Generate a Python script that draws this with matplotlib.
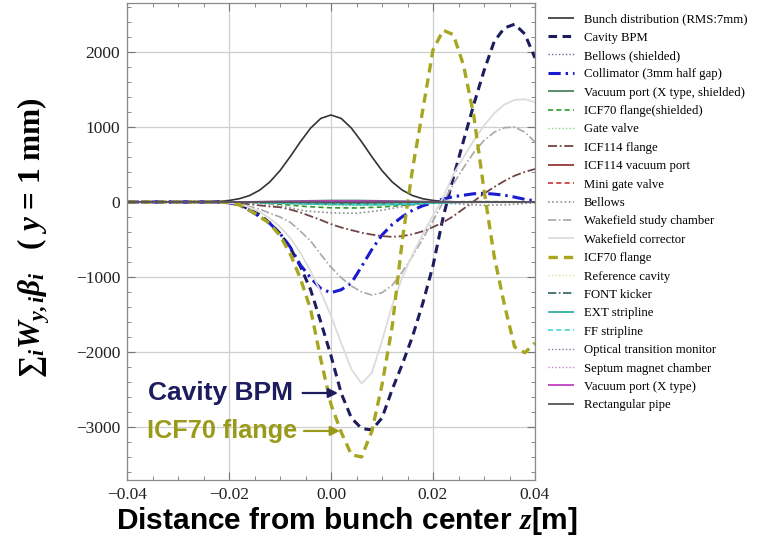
import numpy as np
import matplotlib
matplotlib.use("Agg")
import matplotlib.pyplot as plt
from matplotlib.ticker import MultipleLocator

plt.rcParams["font.family"] = ["Liberation Serif", "DejaVu Serif"]
plt.rcParams["mathtext.fontset"] = "custom"
plt.rcParams["mathtext.rm"] = "Liberation Serif:bold"
plt.rcParams["mathtext.it"] = "Liberation Serif:italic:bold"
plt.rcParams["mathtext.bf"] = "Liberation Serif:bold"

# sampling positions along the bunch [m]
z_fine = np.arange(-40, 41, 2) / 1000.0     # 2 mm step
z_coarse = np.arange(-40, 41, 5) / 1000.0   # 5 mm step

# main contributions (2 mm step, -40 .. 40 mm)
bunch = [0, 0, 0, 0, 0, 0, 0, 0, 3, 8, 20, 43, 85, 157, 267, 418, 604, 803, 985, 1114,
         1160,
         1114, 985, 803, 604, 418, 267, 157, 85, 43, 20, 8, 3, 0, 0, 0, 0, 0, 0, 0, 0]
cavity_bpm = [0, 0, 0, 0, 0, 0, 0, 0, 0, 0, -5, -30, -100, -170, -280, -420, -610, -860, -1170, -1600,
              -2050,
              -2550, -2880, -3020, -3040, -2880, -2500, -2160, -1790, -1350, -850, -200, 330, 820, 1300, 1750,
              2140, 2320, 2370, 2240, 1920]
collimator = [0, 0, 0, 0, 0, 0, 0, 0, 0, 0, -10, -40, -110, -195, -285, -420, -600, -840, -1010, -1155,
              -1210,
              -1170, -1080, -860, -635, -440, -300, -195, -110, -50, -10, 40, 70, 90, 110, 115,
              105, 90, 65, 35, 15]
icf70 = [0, 0, 0, 0, 0, 0, 0, 0, 0, 0, -10, -40, -110, -190, -290, -450, -690, -1020, -1430, -2100,
         -2700,
         -3070, -3370, -3400, -3060, -2440, -1660, -500, 445, 1230, 2027, 2290, 2230, 1820, 1150, 160,
         -725, -1370, -1933, -2010, -1880]
wf_chamber = [0, 0, 0, 0, 0, 0, 0, 0, 0, 0, -10, -30, -60, -95, -150, -200, -270, -390, -520, -700,
              -870,
              -1010, -1120, -1200, -1240, -1210, -1110, -930, -720, -490, -250, 0, 240, 460, 660, 820,
              930, 990, 1000, 930, 800]
wf_corrector = [0, 0, 0, 0, 0, 0, 0, 0, 0, 0, -10, -30, -70, -130, -220, -330, -480, -680, -920, -1200,
                -1520,
                -1880, -2230, -2420, -2280, -1850, -1380, -1000, -700, -430, -180, 60, 370, 600, 820, 1020,
                1180, 1300, 1360, 1370, 1330]
icf114 = [0, 0, 0, 0, 0, 0, 0, 0, 0, 0, -5, -15, -30, -45, -60, -70, -100, -140, -190, -240,
          -295,
          -340, -375, -410, -435, -455, -465, -455, -430, -390, -335, -270, -190, -90, 10, 110,
          200, 280, 350, 400, 440]

# small contributions (5 mm step, -40 .. 40 mm)
bellows_sh = [0, 0, 0, 0, 0, -3, -8, -14, -18, -18, -14, -8, -3, -2, -2, -1, 0]
vport_x_sh = [0, 0, 0, 0, 0, 2, 8, 15, 20, 20, 15, 8, 3, 0, -2, -1, 0]
icf70_sh = [0, 0, 0, 0, 0, -8, -30, -60, -78, -80, -68, -40, -10, 3, 5, 3, 0]
gate_valve = [0, 0, 0, 0, 0, -5, -15, -30, -45, -50, -40, -25, -8, -5, -10, -8, -3]
icf114_vport = [0, 0, 0, 0, 0, -2, -6, -10, -12, -12, -9, -5, -1, 0, 0, 0, 0]
mini_gv = [0, 0, 0, 0, 0, -4, -10, -18, -22, -20, -14, -7, -1, 1, 1, 0, 0]
bellows = [0, 0, 0, 0, 0, -10, -50, -120, -145, -150, -110, -50, -5, -25, -45, -35, -10]
ref_cavity = [0, 0, 0, 0, 0, -2, -5, -9, -11, -10, -7, -3, 0, 1, 1, 0, 0]
font_kicker = [0, 0, 0, 0, 0, -3, -8, -13, -16, -15, -11, -5, -1, 0, 0, 0, 0]
ext_strip = [0, 0, 0, 0, 0, -5, -15, -25, -30, -35, -35, -30, -15, -5, 0, 0, 0]
ff_strip = [0, 0, 0, 0, 0, -4, -12, -20, -25, -28, -28, -22, -10, -3, 0, 0, 0]
otr = [0, 0, 0, 0, 0, -1, -4, -7, -9, -8, -6, -3, 0, 0, 0, 0, 0]
septum = [0, 0, 0, 0, 0, 1, 3, 6, 8, 8, 6, 3, 1, 0, 0, 0, 0]
vport_x = [0, 0, 0, 0, 0, 2, 5, 9, 12, 12, 9, 5, 2, 0, 0, 0, 0]
rect_pipe = [0, 0, 0, 0, 0, -1, -3, -5, -6, -6, -5, -3, -1, 0, 0, 0, 0]

labels = ["Bunch distribution (RMS:7mm)", "Cavity BPM", "Bellows (shielded)",
          "Collimator (3mm half gap)", "Vacuum port (X type, shielded)", "ICF70 flange(shielded)",
          "Gate valve", "ICF114 flange", "ICF114 vacuum port", "Mini gate valve", "Bellows",
          "Wakefield study chamber", "Wakefield corrector", "ICF70 flange", "Reference cavity",
          "FONT kicker", "EXT stripline", "FF stripline", "Optical transition monitor",
          "Septum magnet chamber", "Vacuum port (X type)", "Rectangular pipe"]

series = [(z_fine, bunch), (z_fine, cavity_bpm), (z_coarse, bellows_sh), (z_fine, collimator),
          (z_coarse, vport_x_sh), (z_coarse, icf70_sh), (z_coarse, gate_valve), (z_fine, icf114),
          (z_coarse, icf114_vport), (z_coarse, mini_gv), (z_coarse, bellows), (z_fine, wf_chamber),
          (z_fine, wf_corrector), (z_fine, icf70), (z_coarse, ref_cavity), (z_coarse, font_kicker),
          (z_coarse, ext_strip), (z_coarse, ff_strip), (z_coarse, otr), (z_coarse, septum),
          (z_coarse, vport_x), (z_coarse, rect_pipe)]

navy = "#1c1c5e"
olive = "#a6a620"
styles = [
    dict(color="#333333", lw=1.2),
    dict(color=navy, lw=2.2, dashes=(2.8, 1.8)),
    dict(color="#6a6aa8", lw=1.0, dashes=(1, 1.5)),
    dict(color="#1a1ad0", lw=2.2, dashes=(4, 1.6, 0.8, 1.6)),
    dict(color="#3c7a50", lw=1.2),
    dict(color="#2a9a2a", lw=1.2, dashes=(3, 2)),
    dict(color="#86d686", lw=1.0, dashes=(1, 1.5)),
    dict(color="#704545", lw=1.3, dashes=(5, 1.5, 1, 1.5)),
    dict(color="#902525", lw=1.2),
    dict(color="#c83030", lw=1.2, dashes=(3, 2)),
    dict(color="#909090", lw=1.2, dashes=(1, 1.5)),
    dict(color="#a8a8a8", lw=1.2, dashes=(5, 1.5, 1, 1.5)),
    dict(color="#dcdcdc", lw=1.3),
    dict(color=olive, lw=2.4, dashes=(2.8, 1.8)),
    dict(color="#d8e890", lw=1.0, dashes=(1, 1.5)),
    dict(color="#2f6060", lw=1.2, dashes=(5, 1.5, 1, 1.5)),
    dict(color="#30b0a0", lw=1.3),
    dict(color="#40d8d8", lw=1.2, dashes=(3, 2)),
    dict(color="#8080a0", lw=1.0, dashes=(1, 1.5)),
    dict(color="#c880c8", lw=1.0, dashes=(1, 1.5)),
    dict(color="#c040c0", lw=1.3),
    dict(color="#555555", lw=1.3),
]

fig = plt.figure(figsize=(7.67, 5.47), dpi=100)
ax = fig.add_axes([127 / 767, 1 - 480 / 547, 408 / 767, 477 / 547])

handles = []
for (zz, vals), st, lab in zip(series, styles, labels):
    line, = ax.plot(zz, vals, label=lab, solid_capstyle="butt", dash_capstyle="butt", **st)
    handles.append(line)

ax.set_xlim(-0.04, 0.04)
ax.set_ylim(-3707, 2653)

xticks = [-0.04, -0.02, 0.0, 0.02, 0.04]
xtick_labels = ["\u22120.04", "\u22120.02", "0.00", "0.02", "0.04"]
yticks = [-3000, -2000, -1000, 0, 1000, 2000]
ytick_labels = ["\u22123000", "\u22122000", "\u22121000", "0", "1000", "2000"]
ax.set_xticks(xticks, labels=xtick_labels)
ax.set_yticks(yticks, labels=ytick_labels)
ax.xaxis.set_minor_locator(MultipleLocator(0.005))
ax.yaxis.set_minor_locator(MultipleLocator(200))
ax.tick_params(which="both", direction="in", top=True, right=True, colors="#777777",
               labelcolor="#222222", labelsize=12.5, pad=5)
ax.tick_params(which="major", length=6, width=0.8)
ax.tick_params(which="minor", length=3, width=0.6)
for sp in ax.spines.values():
    sp.set_color("#8a8a8a")
    sp.set_linewidth(0.9)
ax.grid(True, which="major", color="#cfcfcf", lw=0.9)
ax.set_axisbelow(True)

# labels on the curves
ax.annotate("Cavity BPM", xy=(0.00137, -2547), xytext=(-0.0359, -2547),
            ha="left", va="center", fontsize=19, fontweight="bold", color=navy,
            family="Liberation Sans",
            arrowprops=dict(arrowstyle="-|>", color=navy, lw=1.6, shrinkA=5, shrinkB=0,
                            mutation_scale=14))
ax.annotate("ICF70 flange", xy=(0.00176, -3053), xytext=(-0.0361, -3053),
            ha="left", va="center", fontsize=18.2, fontweight="bold", color="#9a9a1a",
            family="Liberation Sans",
            arrowprops=dict(arrowstyle="-|>", color="#9a9a1a", lw=1.6, shrinkA=3, shrinkB=0,
                            mutation_scale=14))

fig.text(34 / 767, 1 - 238 / 547, "$\u2211_i W_{y,i}\\beta_i$   ( $y$ = 1 mm)",
         rotation=90, ha="center", va="center", fontsize=22.5, fontweight="bold")
fig.text(347 / 767, 1 - 521 / 547, r"Distance from bunch center $z$[m]",
         ha="center", va="center", fontsize=21.5, fontweight="bold", family="Liberation Sans")

fig.legend(handles=handles, loc="upper left", bbox_to_anchor=(543 / 767, 1 - 8 / 547),
           frameon=False, fontsize=9.2, handlelength=2.0, handletextpad=0.8,
           labelspacing=0.5, borderaxespad=0)

fig.savefig("out.png", dpi=100)
